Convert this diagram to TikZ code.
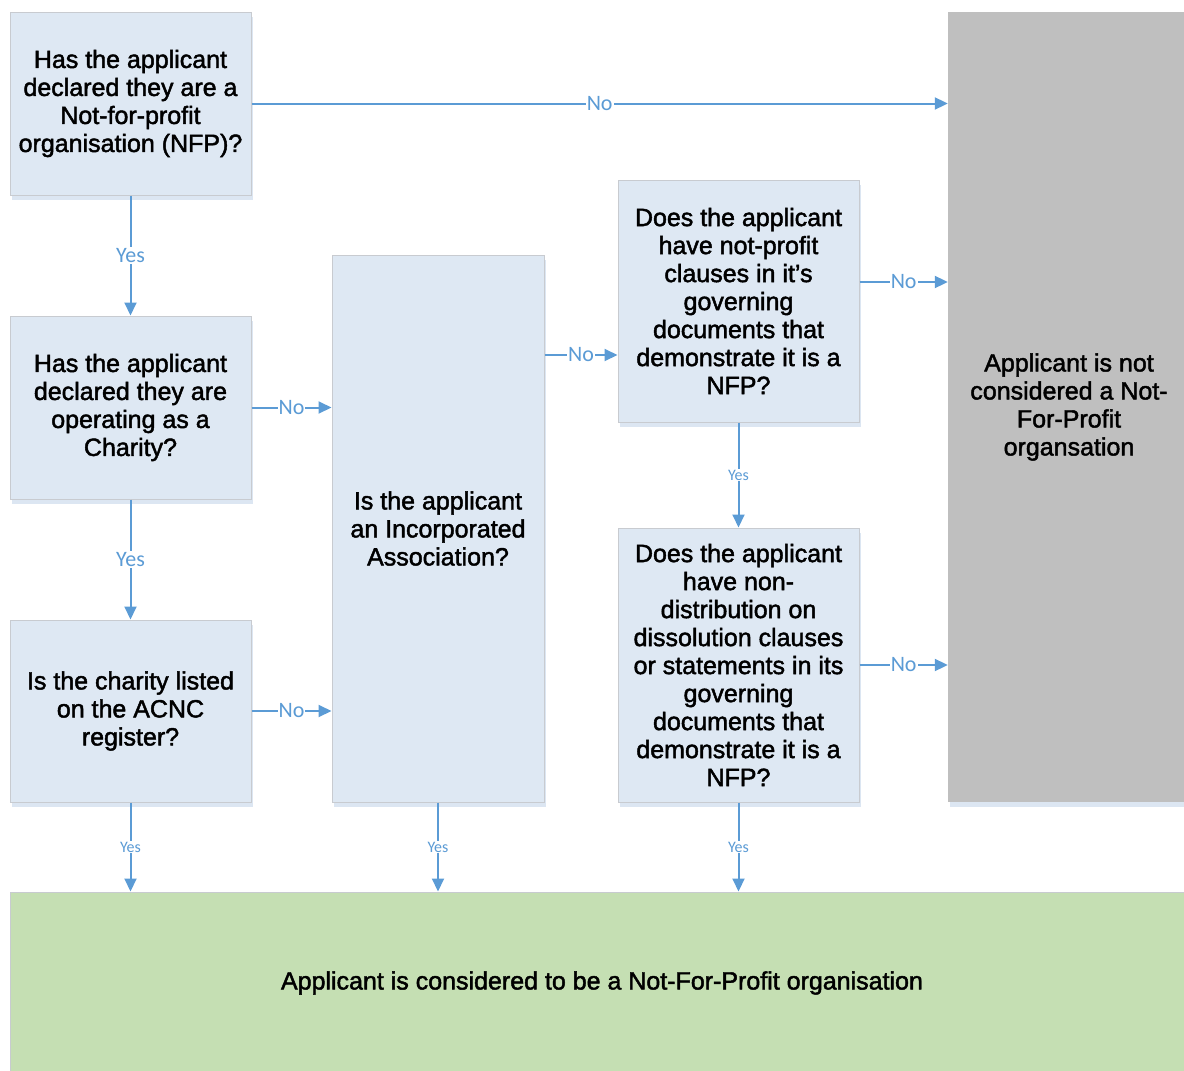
\documentclass[tikz,border=0pt]{standalone}
\usepackage{fontspec}
\setmainfont{Liberation Sans}
\newfontfamily\lblfont{Carlito}
\usetikzlibrary{arrows.meta,shadows}
\definecolor{boxblue}{HTML}{DEE8F3}
\definecolor{boxborder}{HTML}{C8CBD0}
\definecolor{shadowblue}{HTML}{DCE6F2}
\definecolor{linkblue}{HTML}{5B9BD5}
\definecolor{graybox}{HTML}{BFBFBF}
\definecolor{greenbox}{HTML}{C5DFB3}
\newcommand\heavytext{\special{pdf:literal direct 2 Tr 0.45 w}}
\begin{document}
\begin{tikzpicture}[x=1pt,y=-1pt,
  qbox/.style={draw=boxborder, line width=1pt, fill=boxblue, align=center, inner sep=0pt,
    font=\fontsize{25}{28}\selectfont\heavytext,
    drop shadow={shadow xshift=1.5pt, shadow yshift=-5pt, fill=shadowblue, opacity=1}},
  endgray/.style={fill=graybox, align=center, inner sep=0pt, font=\fontsize{25}{28}\selectfont\heavytext,
    drop shadow={shadow xshift=1.5pt, shadow yshift=-5pt, fill=shadowblue, opacity=1}},
  endgreen/.style={draw=boxborder, line width=1pt, fill=greenbox, align=center, inner sep=0pt, font=\fontsize{25}{28}\selectfont\heavytext},
  link/.style={draw=linkblue, line width=2pt, -{Triangle[length=13pt,width=12pt]}},
  lbl/.style={fill=white, text=linkblue, inner sep=1pt, font=\lblfont\fontsize{22}{22}\selectfont},
  slbl/.style={fill=white, text=linkblue, inner sep=1pt, font=\lblfont\fontsize{16}{16}\selectfont}
]
\useasboundingbox (0,0) rectangle (1184,1071);
\begin{scope}
\clip (0,0) rectangle (1184,1071);
\node[qbox, minimum width=241pt, minimum height=183pt] (A) at (130.5,103.5)
  {Has the applicant\\declared they are a\\Not-for-profit\\organisation (NFP)?};
\node[qbox, minimum width=241pt, minimum height=183pt] (B) at (130.5,407.5)
  {Has the applicant\\declared they are\\operating as a\\Charity?};
\node[qbox, minimum width=241pt, minimum height=182pt] (C) at (130.5,711)
  {Is the charity listed\\on the ACNC\\register?};
\node[qbox, minimum width=212pt, minimum height=547pt] (D) at (438,528.5)
  {Is the applicant\\an Incorporated\\Association?};
\node[qbox, minimum width=241pt, minimum height=242pt] (E) at (738.5,301)
  {Does the applicant\\have not-profit\\clauses in it’s\\governing\\documents that\\demonstrate it is a\\NFP?};
\node[qbox, minimum width=241pt, minimum height=274pt] (F) at (738.5,665)
  {Does the applicant\\have non-\\distribution on\\dissolution clauses\\or statements in its\\governing\\documents that\\demonstrate it is a\\NFP?};
\node[endgray, minimum width=242pt, minimum height=790pt] (G) at (1069,407)
  {Applicant is not\\considered a Not-\\For-Profit\\organsation};
\node[endgreen, minimum width=1184pt, minimum height=182pt] (H) at (602,983)
  {Applicant is considered to be a Not-For-Profit organisation};

\coordinate (d1) at ([yshift=173.5pt]D.east);
\coordinate (e1) at ([yshift=19pt]E.east);

\draw[link] (A.east) -- (A.east -| G.west) node[lbl, midway] {No};
\draw[link] (A.south) -- (B.north) node[lbl, midway] {Yes};
\draw[link] (B.east) -- (B.east -| D.west) node[lbl, midway] {No};
\draw[link] (B.south) -- (C.north) node[lbl, midway] {Yes};
\draw[link] (C.east) -- (C.east -| D.west) node[lbl, midway] {No};
\draw[link] (d1) -- (d1 -| E.west) node[lbl, midway] {No};
\draw[link] (e1) -- (e1 -| G.west) node[lbl, midway] {No};
\draw[link] (E.south) -- (F.north) node[slbl, midway] {Yes};
\draw[link] (F.east) -- (F.east -| G.west) node[lbl, midway] {No};
\draw[link] (C.south) -- (C.south |- H.north) node[slbl, midway] {Yes};
\draw[link] (D.south) -- (D.south |- H.north) node[slbl, midway] {Yes};
\draw[link] (F.south) -- (F.south |- H.north) node[slbl, midway] {Yes};
\end{scope}
\end{tikzpicture}
\end{document}
